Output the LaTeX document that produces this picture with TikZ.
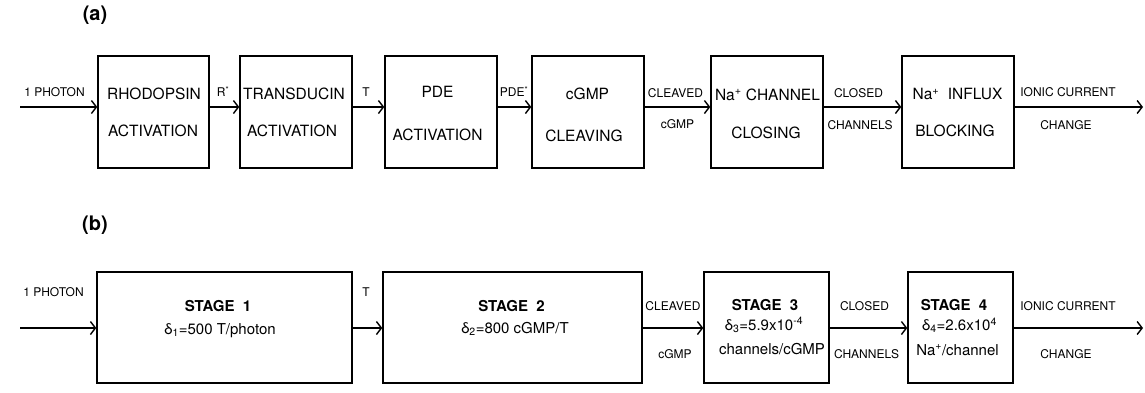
\documentclass[tikz,border=0pt]{standalone}
\usepackage{fontspec}
\setmainfont{TeX Gyre Heros}
\usetikzlibrary{arrows.meta}
\begin{document}
\begin{tikzpicture}[x=1pt,y=-1pt,
  box/.style={draw, line width=1.4pt, inner sep=0pt},
  arr/.style={line width=1.4pt, -{Straight Barb[length=5pt,width=13pt]}},
  lab/.style={anchor=base, inner sep=0pt, font=\fontsize{12}{14}\selectfont},
  btxt/.style={anchor=base, inner sep=0pt, font=\fontsize{15.5}{18}\selectfont},
  stxt/.style={anchor=base, inner sep=0pt, font=\fontsize{15}{18}\selectfont},
  sttl/.style={anchor=base, inner sep=0pt, font=\bfseries\fontsize{15}{18}\selectfont},
  ptag/.style={anchor=base, inner sep=0pt, font=\bfseries\fontsize{20}{24}\selectfont}]
\useasboundingbox (0,0) rectangle (1145,392);

% ---------- (a) ----------
\node[ptag] (taga) at (95,20) {(a)};
\coordinate (ain) at (20,107);
\coordinate (aout) at (1143,107);
\node[box, minimum width=111pt, minimum height=112pt] (a1) at (153.5,112) {};
\node[box, minimum width=112pt, minimum height=112pt] (a2) at (296,112) {};
\node[box, minimum width=112pt, minimum height=112pt] (a3) at (441,112) {};
\node[box, minimum width=112pt, minimum height=112pt] (a4) at (588,112) {};
\node[box, minimum width=112pt, minimum height=112pt] (a5) at (767,112) {};
\node[box, minimum width=112pt, minimum height=112pt] (a6) at (958,112) {};

\node[btxt] (a1t) at (154,99) {RHODOPSIN};
\node[btxt] (a1b) at (153,136.7) {ACTIVATION};
\node[btxt] (a2t) at (294,99) {TRANSDUCIN};
\node[btxt] (a2b) at (292,136.7) {ACTIVATION};
\node[btxt] (a3t) at (437.5,97.5) {PDE};
\node[btxt] (a3b) at (437.5,140) {ACTIVATION};
\node[btxt] (a4t) at (587.5,99) {cGMP};
\node[btxt] (a4b) at (584,141.7) {CLEAVING};
\node[btxt] (a5t) at (767.5,100) {Na\smash{\textsuperscript{+}} CHANNEL};
\node[btxt] (a5b) at (766,138.3) {CLOSING};
\node[btxt] (a6t) at (957.5,99.3) {Na\smash{\textsuperscript{+}}\ \ INFLUX};
\node[btxt] (a6b) at (955,136.7) {BLOCKING};

\draw[arr] (ain) -- (a1.west |- ain);
\draw[arr] (a1.east |- ain) -- (a2.west |- ain);
\draw[arr] (a2.east |- ain) -- (a3.west |- ain);
\draw[arr] (a3.east |- ain) -- (a4.west |- ain);
\draw[arr] (a4.east |- ain) -- (a5.west |- ain);
\draw[arr] (a5.east |- ain) -- (a6.west |- ain);
\draw[arr] (a6.east |- ain) -- (aout);

\node[lab] (la0) at (54.5,96.5) {1 PHOTON};
\node[lab] (la1) at (223,96.7) {R\smash{\textsuperscript{*}}};
\node[lab] (la2) at (366,96.7) {T};
\node[lab] (la3) at (514,96.7) {PDE\smash{\textsuperscript{*}}};
\node[lab] (la4t) at (675.5,97.3) {CLEAVED};
\node[lab] (la4b) at (677.5,128.5) {cGMP};
\node[lab] (la5t) at (858.5,97.3) {CLOSED};
\node[lab] (la5b) at (860,129.3) {CHANNELS};
\node[lab] (la6t) at (1068,96.7) {IONIC CURRENT};
\node[lab] (la6b) at (1066,129.3) {CHANGE};

% ---------- (b) ----------
\node[ptag] (tagb) at (95,230) {(b)};
\coordinate (bin) at (20,328);
\coordinate (bout) at (1143,328);
\node[box, minimum width=255pt, minimum height=111pt] (b1) at (224.5,327.5) {};
\node[box, minimum width=259pt, minimum height=111pt] (b2) at (512.5,327.5) {};
\node[box, minimum width=125pt, minimum height=111pt] (b3) at (766.5,327.5) {};
\node[box, minimum width=105pt, minimum height=111pt] (b4) at (960.5,327.5) {};

\node[sttl] (b1t) at (218,311.5) {STAGE\ \ 1};
\node[stxt] (b1m) at (220,334) {δ\textsubscript{1}=500 T/photon};
\node[sttl] (b2t) at (511.5,311) {STAGE\ \ 2};
\node[stxt] (b2m) at (515,333) {δ\textsubscript{2}=800 cGMP/T};
\node[sttl] (b3t) at (765,310) {STAGE\ \ 3};
\node[stxt] (b3m) at (764,330) {δ\textsubscript{3}=5.9x10\textsuperscript{-4}};
\node[stxt] (b3b) at (772,354) {channels/cGMP};
\node[sttl] (b4t) at (954,310) {STAGE\ \ 4};
\node[stxt] (b4m) at (959.5,330.5) {δ\textsubscript{4}=2.6x10\textsuperscript{4}};
\node[stxt] (b4b) at (957.5,355) {Na\textsuperscript{+}/channel};

\draw[arr] (bin) -- (b1.west |- bin);
\draw[arr] (b1.east |- bin) -- (b2.west |- bin);
\draw[arr] (b2.east |- bin) -- (b3.west |- bin);
\draw[arr] (b3.east |- bin) -- (b4.west |- bin);
\draw[arr] (b4.east |- bin) -- (bout);

\node[lab] (lb0) at (53.5,296) {1 PHOTON};
\node[lab] (lb1) at (366,296.5) {T};
\node[lab] (lb2t) at (673,310) {CLEAVED};
\node[lab] (lb2b) at (675,358) {cGMP};
\node[lab] (lb3t) at (864.5,310) {CLOSED};
\node[lab] (lb3b) at (866.5,358) {CHANNELS};
\node[lab] (lb4t) at (1068,310) {IONIC CURRENT};
\node[lab] (lb4b) at (1066,358) {CHANGE};
\end{tikzpicture}
\end{document}
